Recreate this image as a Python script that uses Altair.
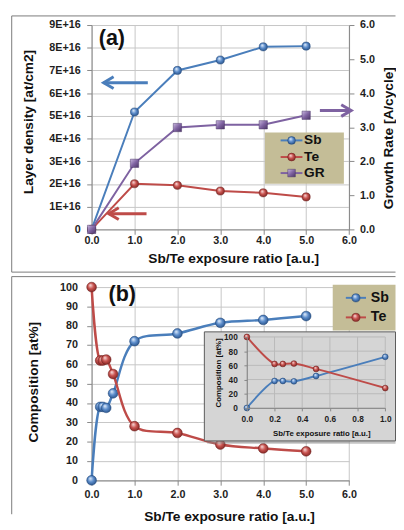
import altair as alt
import pandas as pd

# ---------------- data ----------------
# Panel (a): layer density / growth rate vs Sb/Te exposure ratio
ratio_a = [0.0, 1.0, 2.0, 3.0, 4.0, 5.0]
sb_density = [0.0, 5.17e16, 7.00e16, 7.46e16, 8.04e16, 8.07e16]
te_density = [0.0, 2.01e16, 1.94e16, 1.69e16, 1.61e16, 1.43e16]
gr_rate = [0.0, 1.94, 2.99, 3.07, 3.07, 3.35]

# Panel (b): composition vs Sb/Te exposure ratio
ratio_b = [0.0, 0.2, 0.26, 0.34, 0.5, 1.0, 2.0, 3.0, 4.0, 5.0]
sb_comp = [0.0, 38.0, 38.0, 37.5, 45.0, 72.0, 76.0, 81.5, 83.0, 85.0]
te_comp = [100.0, 62.0, 62.0, 62.5, 55.0, 28.0, 24.5, 18.5, 16.5, 15.0]
inset_max_ratio = 1.0

# tick values
x_ticks = [0, 1, 2, 3, 4, 5, 6]
density_ticks = [i * 1e16 for i in range(10)]
rate_ticks = [0, 1, 2, 3, 4, 5, 6]
comp_ticks = list(range(0, 101, 10))
inset_x_ticks = [0.0, 0.2, 0.4, 0.6, 0.8, 1.0]
inset_y_ticks = [0, 20, 40, 60, 80, 100]

# annotation arrows (start ratio, end ratio, level)
arrow_sb = (0.28, 1.31, 6.46e16)
arrow_te = (0.40, 1.28, 0.69e16)
arrow_gr = (5.32, 6.05, 3.49)

# ---------------- styling ----------------
F = "Liberation Sans"
BLUE, RED, PURPLE = "#4a7ebb", "#be4b48", "#7e62a1"
TAN = "#c4bd97"
FRAME = "#7a7a7a"
W, HA, HB = 263.3, 209.0, 197.6

one = pd.DataFrame({"k": [0]})


def sphere(hi, mid, lo):
    return alt.RadialGradient(
        gradient="radial",
        stops=[alt.GradientStop(color=hi, offset=0),
               alt.GradientStop(color=mid, offset=0.45),
               alt.GradientStop(color=lo, offset=1)],
        x1=0.36, y1=0.3, r1=0.02, x2=0.5, y2=0.5, r2=0.62)


BLUE_BALL = sphere("#e3eefb", "#5b8ccb", "#1d4477")
RED_BALL = sphere("#f8dcdb", "#c9524e", "#6e1d1b")
PURPLE_SQ = alt.LinearGradient(
    gradient="linear",
    stops=[alt.GradientStop(color="#c9b8df", offset=0),
           alt.GradientStop(color="#8064a2", offset=0.5),
           alt.GradientStop(color="#4b3566", offset=1)],
    x1=0, y1=0, x2=1, y2=1)


def axis(**kw):
    base = dict(labelFont=F, labelFontWeight="bold", labelColor="#1e1e1e",
                titleFont=F, titleFontWeight="bold", titleColor="#111111",
                domainColor="#878787", tickColor="#878787", gridColor="#c6c6c6",
                gridWidth=1, domainWidth=1, tickWidth=1, titleAlign="center",
                titleBaseline="middle", labelFlush=False, labelOverlap=False)
    base.update(kw)
    return alt.Axis(**base)


def deco_rule(x, x2, y, y2, color=FRAME, w=1):
    enc = dict(x=alt.value(x), y=alt.value(y))
    if x2 is not None:
        enc["x2"] = alt.value(x2)
    if y2 is not None:
        enc["y2"] = alt.value(y2)
    return alt.Chart(one).mark_rule(color=color, strokeWidth=w).encode(**enc)


def deco_rect(x, x2, y, y2, fill, stroke=None, opacity=1.0):
    kw = dict(fill=fill, opacity=opacity)
    if stroke:
        kw.update(stroke=stroke, strokeWidth=1)
    return alt.Chart(one).mark_rect(**kw).encode(
        x=alt.value(x), x2=alt.value(x2), y=alt.value(y), y2=alt.value(y2))


def deco_text(txt, x, y, size, align="left"):
    return alt.Chart(one).mark_text(
        text=txt, align=align, baseline="middle", font=F, fontWeight="bold",
        fontSize=size, color="#111111").encode(x=alt.value(x), y=alt.value(y))


def series(df, ycol, xkw, ykw, color, fill, stroke, shape, size, width, interp):
    base = alt.Chart(df).encode(x=alt.X("ratio:Q", **xkw), y=alt.Y(f"{ycol}:Q", **ykw))
    return [base.mark_line(color=color, strokeWidth=width, interpolate=interp),
            base.mark_point(shape=shape, filled=True, fill=fill, stroke=stroke,
                            strokeWidth=0.5, size=size, opacity=1)]


def arrow(spec, xkw, ykw, color, head_at_start):
    x0, x1, lvl = spec
    df = pd.DataFrame({"x0": [x0], "x1": [x1], "y": [lvl]})
    base = alt.Chart(df)
    shaft = base.mark_rule(color=color, strokeWidth=3).encode(
        x=alt.X("x0:Q", **xkw), x2="x1:Q", y=alt.Y("y:Q", **ykw))
    if head_at_start:
        head = base.mark_point(shape="M 1.7 -1 L 0 0 L 1.7 1", filled=False, stroke=color,
                               strokeWidth=3, size=144, opacity=1).encode(
            x=alt.X("x0:Q", **xkw), y=alt.Y("y:Q", **ykw))
    else:
        head = base.mark_point(shape="M -1.7 -1 L 0 0 L -1.7 1", filled=False, stroke=color,
                               strokeWidth=3, size=144, opacity=1).encode(
            x=alt.X("x1:Q", **xkw), y=alt.Y("y:Q", **ykw))
    return [shaft, head]


def legend_entry(xl0, xl1, xm, xt, y, color, fill, stroke, shape, size, label, fs):
    return [deco_rule(xl0, xl1, y, None, color=color, w=2),
            alt.Chart(one).mark_point(shape=shape, filled=True, fill=fill, stroke=stroke,
                                      strokeWidth=0.5, size=size, opacity=1).encode(
                x=alt.value(xm), y=alt.value(y)),
            deco_text(label, xt, y, fs)]


# ---------------- panel (a) ----------------
df_a = pd.DataFrame({"ratio": ratio_a, "Sb": sb_density, "Te": te_density, "GR": gr_rate})

xs_a = alt.Scale(domain=[0, 6], nice=False, zero=False)
ys_l = alt.Scale(domain=[0, 9e16], nice=False)
ys_r = alt.Scale(domain=[0, 6], nice=False)

xa_axis = axis(values=x_ticks, format=".1f", grid=True, tickSize=5, labelFontSize=11,
               labelPadding=6.7, labelBaseline="middle", title="Sb/Te exposure ratio [a.u.]",
               titleFontSize=14, titleX=144.8, titleY=30.2)
ya_axis = axis(values=density_ticks, orient="left", grid=True, tickSize=5, labelFontSize=11,
               labelPadding=6.7,
               labelExpr="datum.value == 0 ? '0' : format(datum.value / 1e16, 'd') + 'E+16'",
               title="Layer density [at/cm2]", titleFontSize=14, titleAngle=270,
               titleX=-64.7, titleY=98.7)
yr_axis = axis(values=rate_ticks, orient="right", format=".1f", grid=False, tickSize=5,
               labelFontSize=11, labelPadding=5.7, title="Growth Rate [A/cycle]",
               titleFontSize=14, titleAngle=270, titleX=40.7, titleY=115.2)

xkw_a = dict(scale=xs_a, axis=xa_axis)
ykw_l = dict(scale=ys_l, axis=ya_axis)
ykw_r = dict(scale=ys_r, axis=yr_axis)

left_group = alt.layer(
    *series(df_a, "Sb", xkw_a, ykw_l, BLUE, BLUE_BALL, "#1d4477", "circle", 70, 2, "linear"),
    *series(df_a, "Te", xkw_a, ykw_l, RED, RED_BALL, "#6e1d1b", "circle", 70, 2, "linear"),
    *arrow(arrow_sb, xkw_a, ykw_l, BLUE, True),
    *arrow(arrow_te, xkw_a, ykw_l, RED, True),
)
right_group = alt.layer(
    *series(df_a, "GR", xkw_a, ykw_r, PURPLE, PURPLE_SQ, "#4b3566", "square", 72, 2, "linear"),
    *arrow(arrow_gr, xkw_a, ykw_r, PURPLE, False),
)

border_a = [deco_rule(-81.7, 310.8, -9.3, None),
            deco_rule(-81.7, None, -9.3, 252.7),
            deco_rule(-81.7, 310.8, 252.7, None)]

legend_a = alt.layer(
    deco_rect(177.3, 258.0, 110.0, 162.4, TAN),
    *legend_entry(193.3, 215.6, 204.5, 217.3, 118.0, BLUE, BLUE_BALL, "#1d4477", "circle", 64, "Sb", 14),
    *legend_entry(193.3, 215.6, 204.5, 217.3, 135.0, RED, RED_BALL, "#6e1d1b", "circle", 64, "Te", 14),
    *legend_entry(193.3, 215.6, 204.5, 217.3, 151.4, PURPLE, PURPLE_SQ, "#4b3566", "square", 60, "GR", 14),
)

panel_a = alt.layer(
    *border_a, left_group, right_group, legend_a, deco_text("(a)", 7.3, 13.7, 22)
).resolve_scale(y="independent").properties(width=W, height=HA)

# ---------------- panel (b) ----------------
df_b = pd.DataFrame({"ratio": ratio_b, "Sb": sb_comp, "Te": te_comp})
df_i = df_b[df_b["ratio"] <= inset_max_ratio].reset_index(drop=True)

xs_b = alt.Scale(domain=[0, 6], nice=False, zero=False)
ys_b = alt.Scale(domain=[0, 100], nice=False)
xb_axis = axis(values=x_ticks, format=".1f", grid=True, tickSize=5, labelFontSize=11,
               labelPadding=10, labelBaseline="middle", title="Sb/Te exposure ratio [a.u.]",
               titleFontSize=14, titleX=140.6, titleY=36.7)
yb_axis = axis(values=comp_ticks, orient="left", format="d", grid=True, tickSize=5,
               labelFontSize=11, labelPadding=9.4, title="Composition [at%]",
               titleFontSize=14, titleAngle=270, titleX=-59.4, titleY=96.8)
xkw_b = dict(scale=xs_b, axis=xb_axis)
ykw_b = dict(scale=ys_b, axis=yb_axis)

IX0, IX1, IY0, IY1 = 158.8, 300.3, 123.6, 51.0
xs_i = alt.Scale(domain=[0, 1], range=[IX0, IX1], nice=False, zero=False)
ys_i = alt.Scale(domain=[0, 100], range=[IY0, IY1], nice=False)
xi_axis = axis(values=inset_x_ticks, orient="bottom", format=".1f", grid=False, tickSize=3,
               labelFontSize=8.5, labelPadding=7.7, labelBaseline="middle",
               title="Sb/Te exposure ratio [a.u.]", titleFontSize=8, titleX=235, titleY=26.7,
               offset=-(HB - IY0), zindex=1)
yi_axis = axis(values=inset_y_ticks, orient="left", format="d", grid=False, tickSize=3,
               labelFontSize=8.5, labelPadding=6.8, title="Composition [at%]", titleFontSize=8,
               titleAngle=270, titleX=-29.2, titleY=87.3, offset=-IX0, zindex=1)
xkw_i = dict(scale=xs_i, axis=xi_axis)
ykw_i = dict(scale=ys_i, axis=yi_axis)

main_group = alt.layer(
    *series(df_b, "Sb", xkw_b, ykw_b, BLUE, BLUE_BALL, "#1d4477", "circle", 100, 2.5, "catmull-rom"),
    *series(df_b, "Te", xkw_b, ykw_b, RED, RED_BALL, "#6e1d1b", "circle", 100, 2.5, "catmull-rom"),
)

grid_v = alt.Chart(pd.DataFrame({"gx": inset_x_ticks, "y0": 0, "y1": 100})).mark_rule(
    color="#b9b9b9", strokeWidth=1).encode(
    x=alt.X("gx:Q", **xkw_i), y=alt.Y("y0:Q", **ykw_i), y2="y1:Q")
grid_h = alt.Chart(pd.DataFrame({"gy": inset_y_ticks, "x0": 0.0, "x1": 1.0})).mark_rule(
    color="#b9b9b9", strokeWidth=1).encode(
    y=alt.Y("gy:Q", **ykw_i), x=alt.X("x0:Q", **xkw_i), x2="x1:Q")

inset_group = alt.layer(
    grid_v, grid_h,
    *series(df_i, "Sb", xkw_i, ykw_i, BLUE, BLUE_BALL, "#1d4477", "circle", 36, 2, "catmull-rom"),
    *series(df_i, "Te", xkw_i, ykw_i, RED, RED_BALL, "#6e1d1b", "circle", 36, 2, "catmull-rom"),
)

border_b = [deco_rule(-81.7, 310.8, -10.7, None),
            deco_rule(-81.7, None, -10.7, 232.3)]

legend_b = alt.layer(
    deco_rect(246.6, 310.8, -2.4, 44.3, TAN),
    *legend_entry(260.0, 280.6, 270.3, 285.6, 11.0, BLUE, BLUE_BALL, "#1d4477", "circle", 70, "Sb", 14.5),
    *legend_entry(260.0, 280.6, 270.3, 285.6, 31.0, RED, RED_BALL, "#6e1d1b", "circle", 70, "Te", 14.5),
)

panel_b = alt.layer(
    *border_b,
    main_group,
    deco_rect(118.3, 310.8, 48.8, 160.3, "#8a8a8a", opacity=0.5),
    deco_rect(115.3, 310.8, 45.8, 157.3, "#d5d5d5", stroke="#5a5a5a"),
    inset_group,
    legend_b,
    deco_text("(b)", 17.3, 7.3, 22),
).resolve_scale(x="independent", y="independent").properties(width=W, height=HB)

chart = alt.vconcat(panel_a, panel_b, spacing=2).properties(
    padding={"left": 2.5, "top": 1.5, "right": 0, "bottom": 0},
    background="white",
).configure_view(stroke=None)

chart.save("out.html", embed_options={"renderer": "svg", "actions": False})
